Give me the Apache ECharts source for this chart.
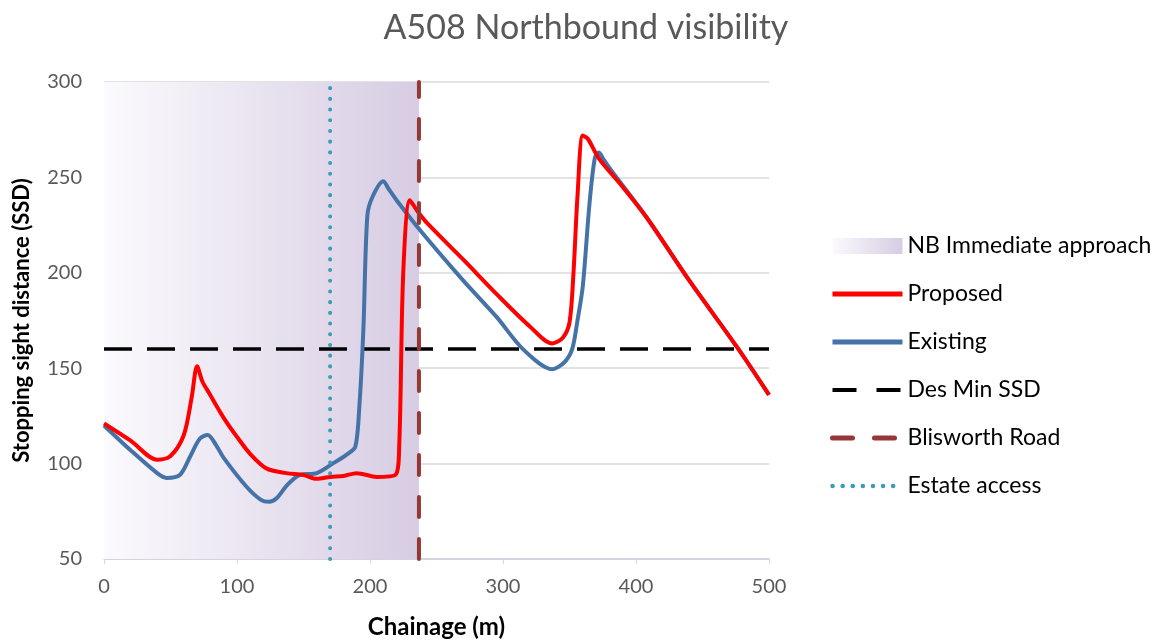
<!DOCTYPE html>
<html>
<head>
<meta charset="utf-8">
<script src="https://cdn.jsdelivr.net/npm/echarts@6/dist/echarts.min.js"></script>
<style>
  html, body { margin: 0; padding: 0; background: #fff; }
  #chart { width: 1172px; height: 640px; }
</style>
</head>
<body>
<div id="chart"></div>
<script>
// chainage (m) / SSD pairs
const proposed = [
  [0, 121], [20, 112], [40, 102], [50, 104], [60, 115], [66, 135], [70, 151], [74, 143],
  [79, 137], [90, 124], [100, 114], [110, 105], [122, 97.5], [137, 95], [150, 94], [160, 92],
  [170, 93], [180, 93.5], [190, 95], [205, 93], [219, 94], [222, 110], [225, 200], [230, 238],
  [236, 232], [243, 226], [270, 207], [295, 189], [320, 172], [337, 163], [345, 166], [350, 174],
  [353, 200], [356, 240], [360, 272], [364, 270], [372, 260], [390, 245], [408, 229], [440, 196],
  [476, 161], [500, 136]
]
const existing = [
  [0, 120], [20, 107], [40, 95], [47, 92.5], [57, 94], [65, 104], [72, 113], [78, 115],
  [84, 110], [90, 103], [107, 88], [118, 81], [124, 80], [130, 82], [138, 89], [147, 94],
  [160, 95], [172, 100], [183, 105], [189, 109], [192, 130], [195, 170], [198, 230], [202, 240],
  [210, 248], [214, 244], [220, 238], [238, 222], [270, 196], [295, 177], [315, 160], [337, 149.5],
  [346, 153], [352, 160], [356, 175], [360, 193], [365, 236], [369, 260], [372, 263], [376, 259],
  [381, 254], [408, 229], [440, 196], [476, 161], [500, 136]
]
const desMinSSD = [[0, 160], [500, 160]]
const blisworthRoad = [[236.8, 50], [236.8, 300]]
const estateAccess = [[170, 50], [170, 300]]
const approachZone = [[0, 300], [236.8, 300]]

const xTicks = {min: 0, max: 500, interval: 100}
const yTicks = {min: 50, max: 300, interval: 50}

const fontFamily = 'Lato, "Open Sans", sans-serif'
const zoneGradient = new echarts.graphic.LinearGradient(0, 0, 1, 0, [
  {offset: 0, color: '#fbfafd'},
  {offset: 1, color: '#d7cce3'}
])
// legend: plain line icons, no marker dot
const noDot = {color: 'transparent', borderWidth: 0}

const chart = echarts.init(document.getElementById('chart'))
chart.setOption({
  animation: false,
  title: {
    text: 'A508 Northbound visibility',
    left: 581,
    textAlign: 'center',
    top: 6,
    textStyle: {color: '#595959', fontSize: 34, fontWeight: 'normal', fontFamily: fontFamily}
  },
  grid: {left: 104, right: 403, top: 82, bottom: 81, outerBoundsMode: 'none'},
  legend: {
    orient: 'vertical',
    left: 825,
    top: 227,
    itemWidth: 70,
    itemHeight: 16,
    itemGap: 20,
    textStyle: {color: '#000', fontSize: 23, lineHeight: 28, fontFamily: fontFamily},
    data: [
      {name: 'NB Immediate approach', icon: 'rect', itemStyle: {color: zoneGradient}},
      {name: 'Proposed', itemStyle: noDot, lineStyle: {width: 5}},
      {name: 'Existing', itemStyle: noDot, lineStyle: {width: 5}},
      {name: 'Des Min SSD', itemStyle: noDot, lineStyle: {width: 4, type: [24, 20]}},
      {name: 'Blisworth Road', itemStyle: noDot, lineStyle: {width: 5, type: [20, 22]}},
      {name: 'Estate access', itemStyle: noDot, lineStyle: {width: 4.5, type: [0.1, 10]}}
    ]
  },
  xAxis: {
    type: 'value',
    min: xTicks.min,
    max: xTicks.max,
    interval: xTicks.interval,
    name: 'Chainage (m)',
    nameLocation: 'middle',
    nameGap: 56,
    nameTextStyle: {color: '#000', fontSize: 24, fontWeight: 'bold', fontFamily: fontFamily},
    axisLine: {lineStyle: {color: '#d5cde0', width: 1.5}},
    axisTick: {show: true, length: 5, lineStyle: {color: '#d9d9d9'}},
    axisLabel: {color: '#595959', fontSize: 20, margin: 18, fontFamily: fontFamily},
    splitLine: {show: false}
  },
  yAxis: {
    type: 'value',
    min: yTicks.min,
    max: yTicks.max,
    interval: yTicks.interval,
    name: 'Stopping sight distance (SSD)',
    nameLocation: 'middle',
    nameGap: 71,
    nameTextStyle: {color: '#000', fontSize: 22, fontWeight: 'bold', fontFamily: fontFamily},
    axisLine: {show: false},
    axisTick: {show: false},
    axisLabel: {color: '#595959', fontSize: 20, margin: 22, fontFamily: fontFamily},
    splitLine: {lineStyle: {color: '#d9d9d9', width: 1.5}}
  },
  series: [
    {
      name: 'NB Immediate approach',
      type: 'line',
      data: approachZone,
      symbol: 'none',
      itemStyle: {color: zoneGradient},
      lineStyle: {width: 0},
      areaStyle: {color: zoneGradient, opacity: 1},
      z: 1
    },
    {
      name: 'Des Min SSD',
      type: 'line',
      data: desMinSSD,
      symbol: 'none',
      itemStyle: {color: '#000'},
      lineStyle: {color: '#000', width: 3.5, type: [28, 15]},
      z: 2
    },
    {
      name: 'Existing',
      type: 'line',
      data: existing,
      symbol: 'none',
      smooth: 0.3,
      itemStyle: {color: '#4572a7'},
      lineStyle: {color: '#4572a7', width: 4},
      z: 3
    },
    {
      name: 'Proposed',
      type: 'line',
      data: proposed,
      symbol: 'none',
      smooth: 0.3,
      itemStyle: {color: '#ff0000'},
      lineStyle: {color: '#ff0000', width: 4},
      z: 4
    },
    {
      name: 'Blisworth Road',
      type: 'line',
      data: blisworthRoad,
      symbol: 'none',
      itemStyle: {color: '#953735'},
      lineStyle: {color: '#953735', width: 4, type: [20, 22], cap: 'round'},
      z: 5
    },
    {
      name: 'Estate access',
      type: 'line',
      data: estateAccess,
      symbol: 'none',
      itemStyle: {color: '#3a9db5'},
      lineStyle: {color: '#3a9db5', width: 4, type: [0.1, 10.6], cap: 'round'},
      z: 5
    }
  ]
})
</script>
</body>
</html>
